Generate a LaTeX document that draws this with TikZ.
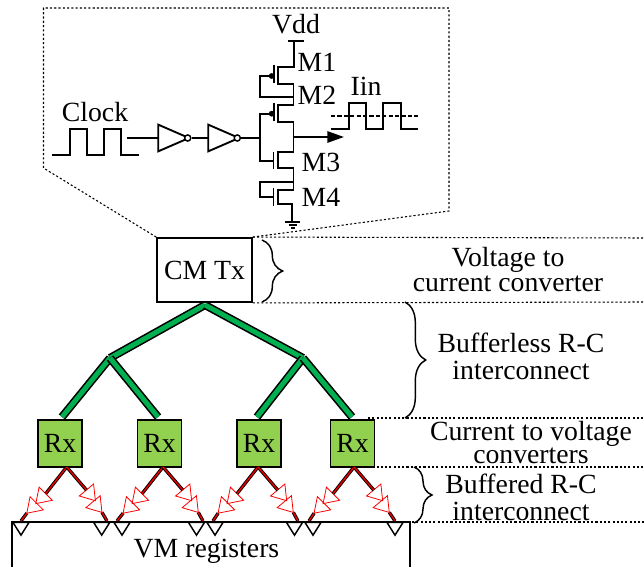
\documentclass[tikz,border=0pt]{standalone}
\usepackage{fontspec}
\setmainfont{Liberation Serif}
\usetikzlibrary{shapes.geometric, arrows.meta, decorations.pathreplacing}
\definecolor{RxGreen}{HTML}{92D050}
\definecolor{TreeGreen}{HTML}{00B050}
\tikzset{
    % Text and boxes
    label text/.style={
        align=center,
        font=\fontsize{20.8}{18.75}\selectfont,
        inner sep=0pt
    },
    tx box/.style={
        rectangle,
        draw=black,
        line width=1.4pt,
        minimum width=71pt,
        minimum height=48pt,
        inner sep=0pt,
        font=\fontsize{20.8}{24}\selectfont
    },
    rx box/.style={
        rectangle,
        draw=black,
        fill=RxGreen,
        line width=1.4pt,
        minimum width=33pt,
        minimum height=35pt,
        inner sep=0pt,
        font=\fontsize{20.8}{24}\selectfont
    },
    % Wires
    tree wire/.style={
        draw=black,
        line width=1.2pt,
        double=TreeGreen,
        double distance=3.7pt
    },
    rc wire/.style={
        draw=black,
        line width=0.7pt,
        double=red!90!black,
        double distance=1.1pt
    },
    circuit wire/.style={
        line width=1.4pt,
        line join=miter
    },
    guide line/.style={
        line width=0.8pt,
        dash pattern=on 1.6pt off 1.6pt
    },
    right brace/.style={
        line width=1.1pt,
        decorate,
        decoration={brace, amplitude=#1}
    },
    % Small triangles
    inverter/.style={
        isosceles triangle,
        isosceles triangle stretches=true,
        draw=black,
        line width=1.4pt,
        inner sep=0pt,
        outer sep=0pt,
        minimum height=23pt,
        minimum width=20pt,
        anchor=lower side
    },
    inv bubble/.style={
        circle,
        draw=black,
        line width=1.1pt,
        fill=white,
        inner sep=0pt,
        minimum size=4.6pt
    },
    buffer/.style={
        isosceles triangle,
        isosceles triangle stretches=true,
        draw=red,
        line width=0.6pt,
        inner sep=0pt,
        outer sep=0pt,
        minimum height=10.5pt,
        minimum width=14pt,
        anchor=lower side
    },
    buffer left/.style={buffer, rotate=225},
    buffer right/.style={buffer, rotate=-50},
    reg pin/.style={
        isosceles triangle,
        isosceles triangle stretches=true,
        draw=black,
        line width=1.1pt,
        inner sep=0pt,
        outer sep=0pt,
        minimum height=9.5pt,
        minimum width=12pt,
        anchor=lower side,
        rotate=-90
    }
}

\begin{document}
\begin{tikzpicture}[x=0.75pt, y=-0.75pt]
    \useasboundingbox (0,0) rectangle (644,567);

    % Zoomed outline of the transmitter
    \node[tx box] (cmtx) at (204.5,270) {CM Tx};
    \coordinate (zoomA) at (43.5,168);
    \coordinate (zoomB) at (43.5,8);
    \coordinate (zoomC) at (449,8);
    \coordinate (zoomD) at (449,211);
    \draw[guide line] (cmtx.north west) -- (zoomA) -- (zoomB) -- (zoomC) -- (zoomD) -- (cmtx.north east);

    % Clock and inverters
    \node[label text] (clock) at (95,112) {Clock};
    \draw[circuit wire] (52.3,155.3) -- (70,155.3) -- (70,129.3) -- (86.7,129.3) -- (86.7,155.3) -- (104,155.3)
        -- (104,129.3) -- (121,129.3) -- (121,155.3) -- (138.7,155.3);
    \coordinate (clockout) at (127.3,138);
    \node[inverter] (inv1) at (158.3,138) {};
    \node[inv bubble] (bub1) at (187.7,138) {};
    \node[inverter] (inv2) at (208.3,138) {};
    \node[inv bubble] (bub2) at (237.3,138) {};
    \coordinate (gatein) at (260,138);
    \draw[circuit wire] (clockout) -- (inv1.lower side);
    \draw[circuit wire] (bub1) -- (inv2.lower side);
    \draw[circuit wire] (bub2) -- (gatein);

    % Transistor stack
    \node[label text] (vdd) at (296,24) {Vdd};
    \node[label text] (m1) at (317,62) {M1};
    \node[label text] (m2) at (317,95) {M2};
    \node[label text] (m3) at (321,162) {M3};
    \node[label text] (m4) at (321,197) {M4};
    \draw[circuit wire] (288,41) -- (304,41);
    \draw[circuit wire] (294,41) -- (294,67) -- (278,67) -- (278,84) -- (293.5,84) -- (293.5,105) -- (278,105)
        -- (278,121.7) -- (293.5,121.7) -- (293.5,152) -- (278,152) -- (278,168) -- (293.5,168) -- (293.5,190)
        -- (278,190) -- (278,204) -- (292,204) -- (292,222);
    \draw[circuit wire] (274.3,65) -- (274.3,83);
    \draw[circuit wire] (274.3,103) -- (274.3,121);
    \draw[circuit wire] (273.5,152) -- (273.5,169);
    \draw[circuit wire] (273.5,188) -- (273.5,206);
    \fill (271.7,76) circle (2.2pt);
    \fill (271.7,113.7) circle (2.2pt);
    \draw[circuit wire] (271.7,76) -- (260,76) -- (260,96.7) -- (293.5,96.7);
    \draw[circuit wire] (271.7,113.7) -- (260,113.7) -- (260,160.7) -- (273.5,160.7);
    \draw[circuit wire] (273.5,197) -- (260,197) -- (260,181.7) -- (293.5,181.7);
    \draw[circuit wire] (285,222) -- (300,222);
    \draw[circuit wire] (288.5,225.2) -- (296.5,225.2);
    \draw[circuit wire] (290.5,228.4) -- (294.5,228.4);
    \coordinate (drain) at (293.5,137);
    \coordinate (iout) at (344,137);
    \draw[circuit wire, -{Triangle[length=12.5pt, width=8.5pt]}] (drain) -- (iout);

    % Output current
    \node[label text] (iin) at (366,86) {Iin};
    \draw[circuit wire] (331,129) -- (349,129) -- (349,103.3) -- (366,103.3) -- (366,129) -- (383.3,129)
        -- (383.3,103.3) -- (400.7,103.3) -- (400.7,129) -- (418.3,129);
    \draw[line width=1.2pt, dash pattern=on 3.2pt off 1.6pt] (331,116) -- (418.3,116);

    % Bufferless tree
    \coordinate (root) at (205,305);
    \coordinate (midL) at (110,358);
    \coordinate (midR) at (303,358);
    \node[rx box] (rx1) at (60,443.5) {Rx};
    \node[rx box] (rx2) at (159.5,443.5) {Rx};
    \node[rx box] (rx3) at (259,443.5) {Rx};
    \node[rx box] (rx4) at (352.5,443.5) {Rx};
    \coordinate (leaf1) at (62,417);
    \coordinate (leaf2) at (158,417);
    \coordinate (leaf3) at (257,417);
    \coordinate (leaf4) at (352,417);
    \draw[tree wire] (root) -- (midL);
    \draw[tree wire] (root) -- (midR);
    \draw[tree wire] (midL) -- (leaf1);
    \draw[tree wire] (midL) -- (leaf2);
    \draw[tree wire] (midR) -- (leaf3);
    \draw[tree wire] (midR) -- (leaf4);

    % Buffered wires, Rx 1
    \coordinate (tap1) at (66.7,467);
    \coordinate (end1l) at (21,521);
    \coordinate (end1r) at (107,521);
    \node[buffer left] (b1la) at (45.7,493.7) {};
    \node[buffer left] (b1lb) at (36.7,503.3) {};
    \node[buffer right] (b1ra) at (86.4,490) {};
    \node[buffer right] (b1rb) at (93,501.7) {};
    \draw[rc wire] (tap1) -- (b1la.lower side);
    \draw[rc wire] (tap1) -- (b1ra.lower side);
    \draw[rc wire] (b1lb.apex) -- (end1l);
    \draw[rc wire] (b1rb.apex) -- (end1r);

    % Buffered wires, Rx 2
    \coordinate (tap2) at (163,467);
    \coordinate (end2l) at (117,521);
    \coordinate (end2r) at (203,521);
    \node[buffer left] (b2la) at (142,493.7) {};
    \node[buffer left] (b2lb) at (133,503.3) {};
    \node[buffer right] (b2ra) at (182.7,490) {};
    \node[buffer right] (b2rb) at (189.3,501.7) {};
    \draw[rc wire] (tap2) -- (b2la.lower side);
    \draw[rc wire] (tap2) -- (b2ra.lower side);
    \draw[rc wire] (b2lb.apex) -- (end2l);
    \draw[rc wire] (b2rb.apex) -- (end2r);

    % Buffered wires, Rx 3
    \coordinate (tap3) at (258,467);
    \coordinate (end3l) at (213,521);
    \coordinate (end3r) at (298,521);
    \node[buffer left] (b3la) at (237,493.7) {};
    \node[buffer left] (b3lb) at (228,503.3) {};
    \node[buffer right] (b3ra) at (277.7,490) {};
    \node[buffer right] (b3rb) at (284.3,501.7) {};
    \draw[rc wire] (tap3) -- (b3la.lower side);
    \draw[rc wire] (tap3) -- (b3ra.lower side);
    \draw[rc wire] (b3lb.apex) -- (end3l);
    \draw[rc wire] (b3rb.apex) -- (end3r);

    % Buffered wires, Rx 4
    \coordinate (tap4) at (354,467);
    \coordinate (end4l) at (309,521);
    \coordinate (end4r) at (395,521);
    \node[buffer left] (b4la) at (333,493.7) {};
    \node[buffer left] (b4lb) at (324,503.3) {};
    \node[buffer right] (b4ra) at (373.7,490) {};
    \node[buffer right] (b4rb) at (380.3,501.7) {};
    \draw[rc wire] (tap4) -- (b4la.lower side);
    \draw[rc wire] (tap4) -- (b4ra.lower side);
    \draw[rc wire] (b4lb.apex) -- (end4l);
    \draw[rc wire] (b4rb.apex) -- (end4r);

    % Register block, open at the bottom edge
    \draw[line width=1.3pt] (12.3,567) -- (12.3,522) -- (410,522) -- (410,567);
    \node[label text] (vmreg) at (206.5,551) {VM registers};
    \node[reg pin] (pin1) at (21,522.5) {};
    \node[reg pin] (pin2) at (101.7,522.5) {};
    \node[reg pin] (pin3) at (122,522.5) {};
    \node[reg pin] (pin4) at (196.5,522.5) {};
    \node[reg pin] (pin5) at (215,522.5) {};
    \node[reg pin] (pin6) at (294.5,522.5) {};
    \node[reg pin] (pin7) at (313,522.5) {};
    \node[reg pin] (pin8) at (395,522.5) {};

    % Guide lines and braces
    \coordinate (guide1) at (644,238);
    \coordinate (guide2) at (644,302);
    \coordinate (guide3a) at (368,418);
    \coordinate (guide3) at (644,418);
    \coordinate (guide4a) at (368,467);
    \coordinate (guide4) at (644,467);
    \coordinate (guide5a) at (412,522);
    \coordinate (guide5) at (644,522);
    \draw[guide line] (cmtx.north east) -- (guide1);
    \draw[guide line] (cmtx.south east) -- (guide2);
    \draw[guide line] (guide3a) -- (guide3);
    \draw[guide line] (guide4a) -- (guide4);
    \draw[guide line] (guide5a) -- (guide5);
    \coordinate (brace1a) at (262,240);
    \coordinate (brace1b) at (262,302);
    \coordinate (brace2a) at (405,302);
    \coordinate (brace2b) at (405,418);
    \coordinate (brace3a) at (414,467);
    \coordinate (brace3b) at (414,523);
    \draw[right brace=15.5pt] (brace1a) -- (brace1b);
    \draw[right brace=15.5pt] (brace2a) -- (brace2b);
    \draw[right brace=13.5pt] (brace3a) -- (brace3b);

    % Level labels
    \node[label text] (lblconv) at (508,270) {Voltage to\\current converter};
    \node[label text] (lblrc) at (521,356) {Bufferless R-C\\[1.5pt]interconnect};
    \node[label text] (lblrx) at (531,443) {Current to voltage\\[-1.5pt]converters};
    \node[label text] (lblbuf) at (521,497) {Buffered R-C\\[1.5pt]interconnect};
\end{tikzpicture}
\end{document}
